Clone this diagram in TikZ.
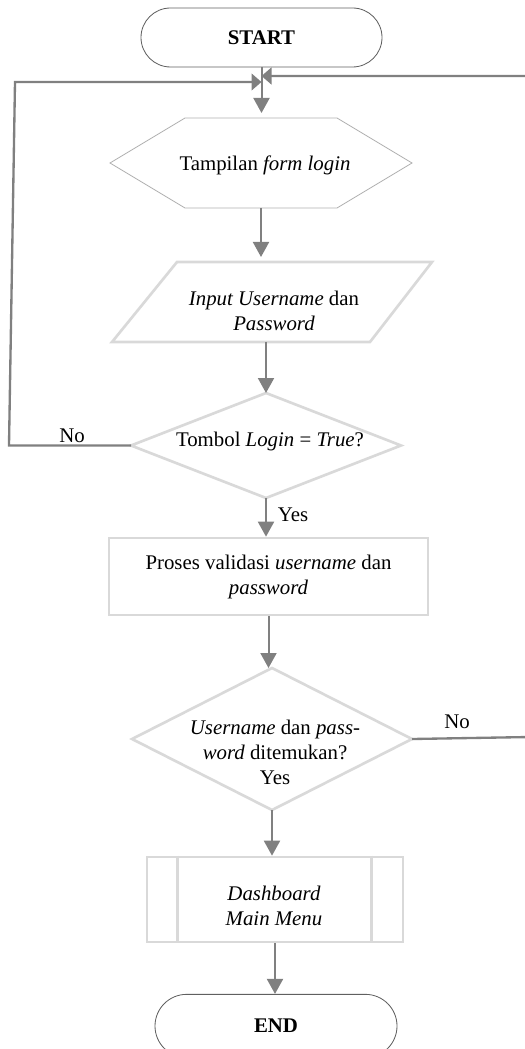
\documentclass[tikz,border=0pt]{standalone}
\usepackage{fontspec}
\setmainfont{Liberation Serif}
\usetikzlibrary{shapes.misc,arrows.meta}
\definecolor{conn}{HTML}{808080}
\definecolor{shp}{HTML}{D9D9D9}
\definecolor{hexc}{HTML}{B0B0B0}
\definecolor{termc}{HTML}{606060}
\begin{document}
\begin{tikzpicture}[x=0.6pt,y=-0.6pt,
  font=\fontsize{12.5}{15}\selectfont,
  connline/.style={draw=conn, line width=1.2pt},
  arr/.style={connline, -{Triangle[length=9pt,width=9.6pt]}},
  jarr/.style={connline, line width=1.4pt, -{Triangle[length=6pt,width=10pt]}},
  box/.style={draw=none, inner sep=0pt, outer sep=0pt},
  shapeline/.style={draw=shp, line width=1.6pt},
  hexline/.style={draw=hexc, line width=0.5pt},
  termbox/.style={rounded rectangle, draw=termc, line width=0.5pt, inner sep=0pt, font=\fontsize{12.5}{15}\selectfont\bfseries},
  txt/.style={inner sep=0pt, align=center}]
\useasboundingbox (0,0) rectangle (524,1049);

% nodes
\node[termbox, minimum width=144.6pt, minimum height=35.4pt] (start) at (261.5,37.5) {START};

\node[box, minimum width=181.2pt, minimum height=54pt] (hex) at (261,163) {};
\draw[hexline] (hex.west) -- ([xshift=45pt]hex.north west) -- ([xshift=-45pt]hex.north east) -- (hex.east) -- ([xshift=-45pt]hex.south east) -- ([xshift=45pt]hex.south west) -- cycle;
\node[txt] (hexT) at (265,165) {Tampilan \textit{form login}};

\node[box, minimum width=192pt, minimum height=48pt] (para) at (272,302) {};
\draw[shapeline] ([xshift=39pt]para.north west) -- (para.north east) -- ([xshift=-37.2pt]para.south east) -- (para.south west) -- cycle;
\node[txt] (paraT) at (274,311) {\textit{Input Username} dan\\\textit{Password}};

\node[box, minimum width=162pt, minimum height=63pt] (d1) at (266,445.5) {};
\draw[shapeline] (d1.north) -- (d1.east) -- (d1.south) -- (d1.west) -- cycle;
\node[txt] (d1T) at (270,441) {Tombol \textit{Login} = \textit{True}?};

\node[shapeline, rectangle, inner sep=0pt, align=center, minimum width=191.4pt, minimum height=46.2pt] (rect) at (268.5,576.5) {Proses validasi \textit{username} dan\\\textit{password}};

\node[box, minimum width=168pt, minimum height=85.2pt] (d2) at (272,739) {};
\draw[shapeline] (d2.north) -- (d2.east) -- (d2.south) -- (d2.west) -- cycle;
\node[txt] (d2T) at (275,752) {\textit{Username} dan \textit{pass-}\\\textit{word} ditemukan?\\Yes};

\node[shapeline, rectangle, inner sep=0pt, minimum width=153.6pt, minimum height=51pt] (pp) at (275,899.5) {};
\draw[shapeline] ([xshift=19.2pt]pp.north west) -- ([xshift=19.2pt]pp.south west);
\draw[shapeline] ([xshift=-19.8pt]pp.north east) -- ([xshift=-19.8pt]pp.south east);
\node[txt] (ppT) at (274,906) {\textit{Dashboard}\\\textit{Main Menu}};

\node[termbox, minimum width=145.2pt, minimum height=38pt] (end) at (276,1026) {END};

% labels
\node[txt] (no1) at (72,436) {No};
\node[txt] (yes1) at (293,515) {Yes};
\node[txt] (no2) at (457,722) {No};

% connectors
\draw[arr, shorten >=3pt] (start.south) -- (start.south |- hex.north);
\draw[arr, shorten >=3pt] (hex.south) -- (hex.south |- para.north);
\draw[arr] (d1.north |- para.south) -- (d1.north);
\draw[arr] (d1.south) -- (d1.south |- rect.north);
\draw[arr] (rect.south) -- (rect.south |- d2.north);
\draw[arr] (d2.south) -- (d2.south |- pp.north);
\draw[arr] (pp.south) -- (pp.south |- end.north);

\coordinate (L1) at (9,445.5);
\coordinate (L2) at (15,82);
\draw[jarr] (d1.west) -- (L1) -- (L2) -- (start.south |- L2);

\coordinate (R1) at (530,737);
\coordinate (R2) at (530,76);
\draw[jarr] (d2.east) -- (R1) -- (R2) -- (start.south |- R2);
\end{tikzpicture}
\end{document}
